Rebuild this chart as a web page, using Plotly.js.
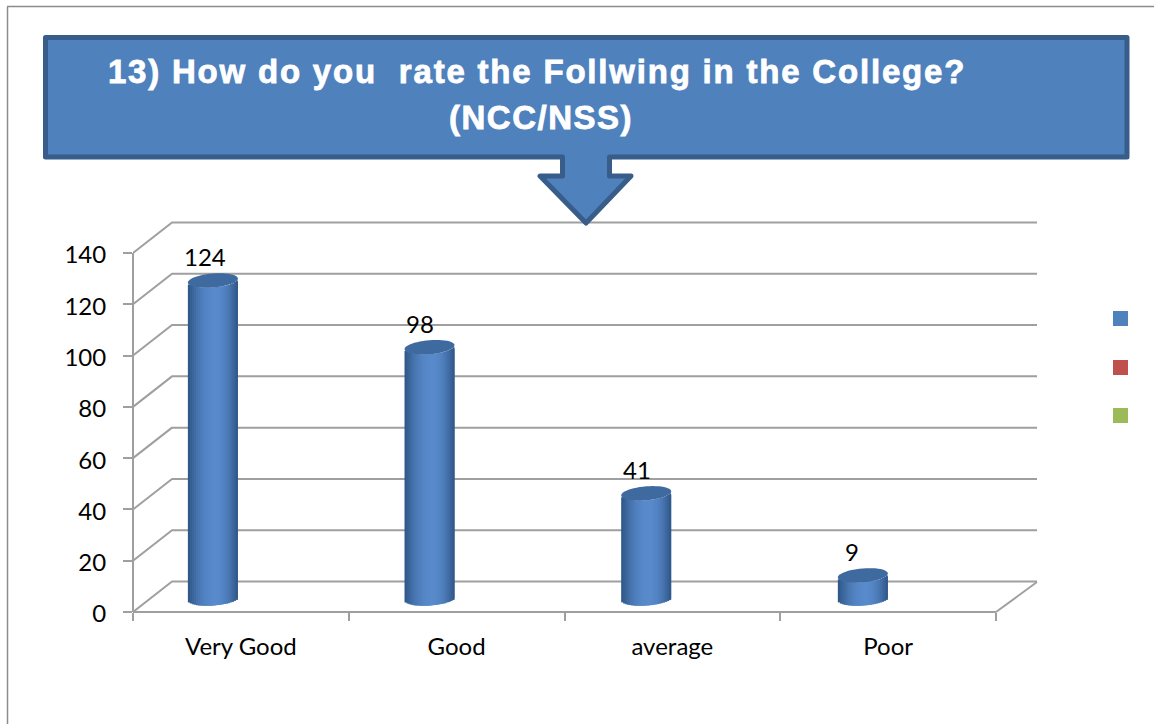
<!DOCTYPE html>
<html>
<head>
<meta charset="utf-8">
<script src="https://cdn.plot.ly/plotly-3.0.1.min.js"></script>
<style>
html,body{margin:0;padding:0;background:#fff}
#chart{width:1154px;height:724px}
.gtitle{letter-spacing:1.8px;stroke:#fff;stroke-width:0.8px}
.shapelayer path{stroke-linejoin:round}
</style>
</head>
<body>
<div id="chart"></div>
<script>
var categories = ['Very Good', 'Good', 'average', 'Poor'];
var values = [124, 98, 41, 9];
var yTicks = [0, 20, 40, 60, 80, 100, 120, 140];
var titleLine1 = '13) How do you \u00a0rate the Follwing in the College?';
var titleLine2 = '(NCC/NSS)';
var legendColors = ['#4f81bd', '#c0504d', '#9bbb59'];

var W = 1154, H = 724;
var pxX = 215.75, pxY = 2.5643;
var plotL = 133, plotR = 1046, plotB = 612, plotT = 212;
var px = function (x) { return x / W; };
var py = function (y) { return 1 - y / H; };
var xRange = [-0.5, -0.5 + (plotR - plotL) / pxX];
var yRange = [0, (plotB - plotT) / pxY];

var depthX = 39 / pxX, depthY = 30.5 / pxY;
var gridColor = '#9f9f9f';
var shapes = [];
var gridLine = { color: gridColor, width: 2 };

yTicks.forEach(function (v) {
  shapes.push({
    type: 'path', layer: 'below', xref: 'x', yref: 'y', line: gridLine,
    path: 'M -0.5 ' + v + ' L ' + (-0.5 + depthX) + ' ' + (v + depthY) + ' L ' + (3.5 + 41 / pxX) + ' ' + (v + depthY)
  });
});
// front axis lines and floor edge
shapes.push({ type: 'line', layer: 'below', xref: 'paper', yref: 'paper', line: gridLine, x0: px(133), x1: px(133), y0: py(253), y1: py(612) });
shapes.push({ type: 'line', layer: 'below', xref: 'paper', yref: 'paper', line: gridLine, x0: px(133), x1: px(996), y0: py(612), y1: py(612) });
shapes.push({ type: 'line', layer: 'below', xref: 'paper', yref: 'paper', line: gridLine, x0: px(996), x1: px(1037), y0: py(612), y1: py(582) });

// page frame
var frame = { color: '#8c8c8c', width: 1.5 };
shapes.push({ type: 'line', xref: 'paper', yref: 'paper', line: frame, x0: px(7.5), x1: px(7.5), y0: py(7), y1: 0 });
shapes.push({ type: 'line', xref: 'paper', yref: 'paper', line: frame, x0: px(7), x1: 1, y0: py(6.5), y1: py(6.5) });

// callout box
var pts = [[45.5, 37.5], [1127, 37.5], [1127, 157], [609.5, 157], [609.5, 176], [631, 176], [586, 223], [540, 176], [562.5, 176], [562.5, 157], [45.5, 157]];
shapes.push({
  type: 'path', xref: 'paper', yref: 'paper', layer: 'above',
  fillcolor: '#4f81bd', line: { color: '#385d8a', width: 5 },
  path: pts.map(function (p, i) { return (i ? 'L ' : 'M ') + px(p[0]) + ' ' + py(p[1]); }).join(' ') + ' Z'
});

// legend swatches
legendColors.forEach(function (c, i) {
  var top = [311, 360, 408][i];
  shapes.push({ type: 'rect', xref: 'paper', yref: 'paper', fillcolor: c, line: { width: 0 }, x0: px(1113), x1: px(1128), y0: py(top), y1: py(top + 15) });
});

// cylinders
var barShift = -28 / pxX, barStep = 0.9 / pxX, barW = 50 / pxX;
var baseLevel = 13.5 / pxY;
var ry = 7, slope = 2;
var N = 25;
function lerp(a, b, t) { return Math.round(a + (b - a) * t); }
function shade(u) {
  var t = 1 - Math.pow(Math.abs((u - 0.1) / (u > 0.1 ? 0.9 : 1.1)), 2);
  return 'rgb(' + lerp(45, 88, t) + ',' + lerp(84, 138, t) + ',' + lerp(132, 204, t) + ')';
}
var traces = [];
for (var k = 0; k < N; k++) {
  var u = -1 + (2 * k + 1) / N;
  var drop = (ry * Math.sqrt(1 - u * u) - slope * u) / pxY;
  traces.push({
    type: 'bar', x: categories, y: values,
    base: values.map(function () { return baseLevel - drop; }),
    offset: values.map(function (v, i) { return barShift + i * barStep - barW / 2 + k * barW / N; }),
    width: (k < N - 1 ? 2 : 1) * barW / N,
    marker: { color: shade(u), line: { width: 0 } },
    hoverinfo: 'skip', showlegend: false
  });
}
values.forEach(function (v, i) {
  var cx = i + barShift + i * barStep, cy = v + baseLevel, d = '';
  for (var a = 0; a <= 48; a++) {
    var th = a / 48 * 2 * Math.PI;
    var ux = Math.cos(th);
    var x = cx + ux * barW / 2;
    var y = cy + (ry * Math.sin(th) + slope * ux) / pxY;
    d += (a ? 'L ' : 'M ') + x + ' ' + y + ' ';
  }
  shapes.push({ type: 'path', xref: 'x', yref: 'y', layer: 'above', fillcolor: '#3e6a9f', line: { width: 0 }, path: d + 'Z' });
});

var labelFont = { family: 'Lato, Carlito, sans-serif', size: 24, color: '#000' };
var labelNudge = [-8, -9.4, -9, -11.2];
var annotations = values.map(function (v, i) {
  return {
    x: i + barShift + i * barStep, y: v + baseLevel, xref: 'x', yref: 'y', text: String(v), showarrow: false,
    xanchor: 'center', yanchor: 'middle', xshift: labelNudge[i], yshift: 24, font: labelFont
  };
});
annotations.push({
  xref: 'paper', yref: 'paper', x: px(541), y: py(118),
  text: '<span style="letter-spacing:1.5px;stroke:#fff;stroke-width:0.8px">' + titleLine2 + '</span>', showarrow: false,
  xanchor: 'center', yanchor: 'middle', font: { family: 'Liberation Sans, Arial, sans-serif', size: 33, color: '#fff', weight: 700 }
});

var layout = {
  width: W, height: H, margin: { l: 0, r: 0, t: 0, b: 0 },
  paper_bgcolor: '#fff', plot_bgcolor: 'rgba(0,0,0,0)',
  barmode: 'overlay', showlegend: false, hovermode: false,
  title: {
    text: titleLine1, xref: 'paper', yref: 'paper', x: px(537), y: py(71), xanchor: 'center', yanchor: 'middle',
    font: { family: 'Liberation Sans, Arial, sans-serif', size: 33, color: '#fff', weight: 700 }
  },
  xaxis: {
    domain: [px(plotL), px(plotR)], range: xRange, type: 'category', tickson: 'boundaries',
    categoryorder: 'array', categoryarray: categories, tickvals: categories,
    ticks: 'outside', ticklen: 8, tickwidth: 2, tickcolor: gridColor,
    ticklabelstandoff: 18, tickfont: labelFont, showgrid: false, zeroline: false, showline: false, tickangle: 0
  },
  yaxis: {
    domain: [py(plotB), py(plotT)], range: yRange, tickmode: 'array', tickvals: yTicks,
    ticks: 'outside', ticklen: 9, tickwidth: 2, tickcolor: gridColor,
    ticklabelstandoff: 12, ticklabelshift: 2, tickfont: labelFont, showgrid: false, zeroline: false, showline: false
  },
  shapes: shapes, annotations: annotations
};
Plotly.newPlot('chart', traces, layout, { displayModeBar: false, staticPlot: true });
</script>
</body>
</html>
